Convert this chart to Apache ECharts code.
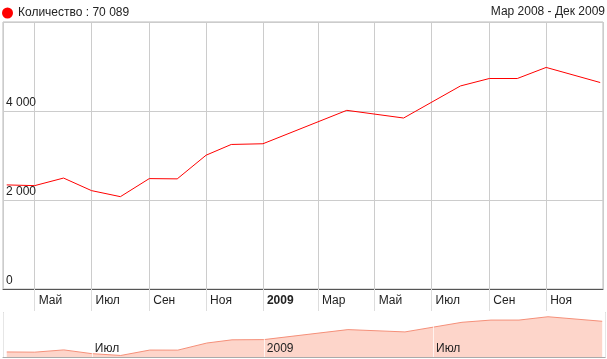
<!DOCTYPE html>
<html><head><meta charset="utf-8">
<script src="https://cdn.jsdelivr.net/npm/echarts@6/dist/echarts.min.js"></script>
<style>html,body{margin:0;padding:0;background:#fff}#c{width:607px;height:359px}</style>
</head><body><div id="c"></div>
<script>
const seriesName = 'Количество';
const totalText = '70 089';
const rangeText = 'Мар 2008 - Дек 2009';
const dates = ['2008-04-01','2008-05-01','2008-06-01','2008-07-01','2008-08-01','2008-09-01','2008-10-01','2008-11-01','2008-11-28','2009-01-01','2009-04-01','2009-06-01','2009-08-01','2009-09-01','2009-10-01','2009-11-01','2009-12-29'];
const values = [2339, 2323, 2493, 2211, 2075, 2481, 2475, 3007, 3248, 3264, 4015, 3842, 4563, 4730, 4730, 4979, 4640];
const monthNames = ['Янв','Фев','Мар','Апр','Май','Июн','Июл','Авг','Сен','Окт','Ноя','Дек'];
const xMin = '2008-03-28';
const xMax = '2010-01-01';
const yTicks = [0, 2000, 4000, 6000];

const DAY = 86400000;
const data = dates.map((d, i) => [d, values[i]]);
const fmtNum = v => String(v).replace(/\B(?=(\d{3})+(?!\d))/g, ' ');
const font = '"Liberation Sans", Arial, sans-serif';

const chart = echarts.init(document.getElementById('c'), null, {renderer: 'canvas'});
chart.setOption({
  animation: false,
  textStyle: {fontFamily: font},
  title: {
    text: rangeText, right: 2, top: 6, padding: 0,
    textStyle: {fontSize: 12, fontWeight: 'normal', color: '#222', fontFamily: font}
  },
  legend: {
    left: 2, top: 7, padding: 0, icon: 'circle', itemWidth: 11, itemHeight: 11, itemGap: 5,
    data: [{name: seriesName, itemStyle: {color: '#ff0000'}}],
    formatter: n => n + ' : ' + totalText,
    textStyle: {fontSize: 12, color: '#222', fontFamily: font},
    selectedMode: false
  },
  grid: [
    {left: 3, right: 4, top: 22, height: 267, show: true, borderColor: '#bbb', borderWidth: 1, containLabel: false},
    {left: 3, right: 2, top: 313, bottom: 2, show: false}
  ],
  xAxis: [
    {
      type: 'time', gridIndex: 0, min: xMin, max: xMax,
      minInterval: 66 * DAY, maxInterval: 80 * DAY,
      axisLine: {show: true, lineStyle: {color: '#555', width: 1}},
      axisTick: {show: true, length: 22, lineStyle: {color: '#ddd'}},
      splitLine: {show: true, lineStyle: {color: '#ccc'}},
      axisLabel: {
        show: true, align: 'left', margin: 6, padding: [0,0,0,4], color: '#222', fontSize: 12, fontFamily: font,
        showMinLabel: false, showMaxLabel: false, hideOverlap: false,
        formatter: v => { const d = new Date(v); return d.getMonth() === 0 ? '{b|' + d.getFullYear() + '}' : monthNames[d.getMonth()]; },
        rich: {b: {fontWeight: 'bold', fontSize: 12, color: '#222', fontFamily: font}}
      }
    },
    {
      type: 'time', gridIndex: 1, min: xMin, max: xMax, z: 5,
      minInterval: 185 * DAY, maxInterval: 200 * DAY,
      axisLine: {show: true, lineStyle: {color: '#aaa'}},
      axisTick: {show: false},
      splitLine: {show: true, lineStyle: {color: 'rgba(255,255,255,0.7)'}},
      axisLabel: {
        show: true, inside: true, align: 'left', verticalAlign: 'bottom', margin: 2, padding: [0,0,0,3],
        color: '#222', fontSize: 12, fontFamily: font, showMinLabel: false, showMaxLabel: false,
        formatter: v => { const d = new Date(v); return d.getMonth() === 0 ? String(d.getFullYear()) : monthNames[d.getMonth()]; }
      }
    }
  ],
  yAxis: [
    {
      type: 'value', gridIndex: 0, min: yTicks[0], max: yTicks[yTicks.length - 1], interval: yTicks[1] - yTicks[0],
      axisLine: {show: false}, axisTick: {show: false},
      splitLine: {show: true, lineStyle: {color: '#ccc'}},
      axisLabel: {inside: true, margin: 3, verticalAlign: 'bottom', padding: [0,0,2,0], color: '#222', fontSize: 12, fontFamily: font,
        showMaxLabel: false, formatter: v => fmtNum(v)}
    },
    {
      type: 'value', gridIndex: 1, min: 1960, max: 5260,
      axisLine: {show: true, lineStyle: {color: '#aaa'}}, axisTick: {show: false},
      splitLine: {show: false}, axisLabel: {show: false}
    },
    {
      type: 'value', gridIndex: 1, position: 'right', min: 1960, max: 5260,
      axisLine: {show: true, lineStyle: {color: '#aaa'}}, axisTick: {show: false},
      splitLine: {show: false}, axisLabel: {show: false}
    }
  ],
  series: [
    {
      name: seriesName, type: 'line', xAxisIndex: 0, yAxisIndex: 0, data: data,
      showSymbol: false, symbol: 'none', lineStyle: {color: '#ff0000', width: 1}, itemStyle: {color: '#ff0000'}
    },
    {
      name: 'mini', type: 'line', xAxisIndex: 1, yAxisIndex: 1, data: data,
      showSymbol: false, symbol: 'none', lineStyle: {color: '#f5907a', width: 1},
      areaStyle: {color: '#fdd5ca', opacity: 1}, silent: true
    }
  ]
});
</script></body></html>
